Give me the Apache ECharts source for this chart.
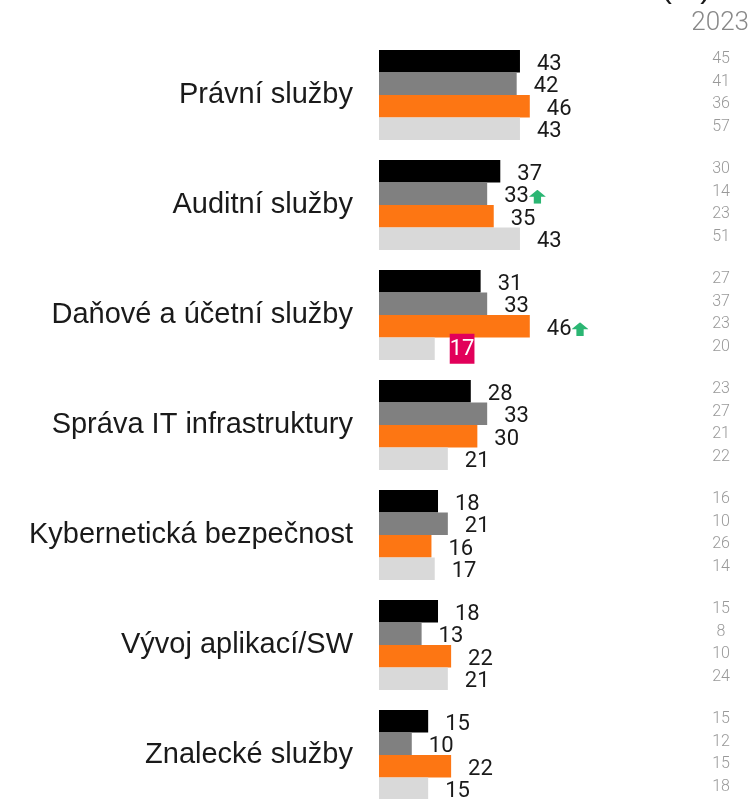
<!DOCTYPE html>
<html>
<head>
<meta charset="utf-8">
<script src="https://cdn.jsdelivr.net/npm/echarts@6/dist/echarts.min.js"></script>
<style>
  html, body { margin: 0; padding: 0; background: #fff; }
  #chart { width: 756px; height: 799px; }
</style>
</head>
<body>
<div id="chart"></div>
<script>
// categories (top to bottom)
var categories = ['Právní služby', 'Auditní služby', 'Daňové a účetní služby', 'Správa IT infrastruktury',
                  'Kybernetická bezpečnost', 'Vývoj aplikací/SW', 'Znalecké služby'];

// four bars per category
var valuesBlack  = [43, 37, 31, 28, 18, 18, 15];
var valuesGrey   = [42, 33, 33, 33, 21, 13, 10];
var valuesOrange = [46, 35, 46, 30, 16, 22, 22];
var valuesLight  = [43, 43, 17, 21, 17, 21, 15];

// 2023 column (same order of bars)
var values2023Black  = [45, 30, 27, 23, 16, 15, 15];
var values2023Grey   = [41, 14, 37, 27, 10, 8, 12];
var values2023Orange = [36, 23, 23, 21, 26, 10, 15];
var values2023Light  = [57, 51, 20, 22, 14, 24, 18];

// marks: [seriesIndex, categoryIndex]
var upArrows = [[1, 1], [2, 2]];
var alerts = [[3, 2]];

var colors = ['#000000', '#808080', '#fd7613', '#d9d9d9'];
var seriesValues = [valuesBlack, valuesGrey, valuesOrange, valuesLight];
var values2023 = [values2023Black, values2023Grey, values2023Orange, values2023Light];

var arrowSvg = '<svg xmlns="http://www.w3.org/2000/svg" width="14" height="14" viewBox="0 0 14 14">' +
    '<path d="M7 0 L14 7 L10 7 L10 14 L4 14 L4 7 L0 7 Z" fill="#2bb673"/></svg>';
var arrowImg = 'data:image/svg+xml;charset=utf-8,' + encodeURIComponent(arrowSvg);

function isIn(list, s, c) {
    for (var i = 0; i < list.length; i++) {
        if (list[i][0] === s && list[i][1] === c) return true;
    }
    return false;
}

var BAR_W = 22.5;
var numFont = 'Roboto';

var chart = echarts.init(document.getElementById('chart'));

var series = seriesValues.map(function (vals, s) {
    return {
        type: 'bar',
        barWidth: BAR_W,
        barGap: 0,
        itemStyle: { color: colors[s] },
        data: vals.map(function (v, c) {
            var item = { value: v };
            if (isIn(alerts, s, c)) {
                // highlighted value
                item.label = {
                    distance: 15,
                    offset: [0, 0],
                    color: '#fff',
                    backgroundColor: '#e2005a',
                    padding: [5, 0, 3, 0]
                };
            }
            return item;
        }),
        label: {
            show: true,
            position: 'right',
            distance: 17,
            offset: [0, 3],
            fontFamily: numFont,
            fontWeight: 400,
            fontSize: 22,
            color: '#1a1a1a',
            formatter: function (p) {
                if (isIn(upArrows, s, p.dataIndex)) return p.value + '{up|}';
                return String(p.value);
            },
            rich: {
                up: {
                    width: 14,
                    height: 14,
                    padding: [0, 0, 0, 3],
                    backgroundColor: { image: arrowImg }
                }
            }
        },
        z: 2
    };
});

// 2023 column, positioned on the same bands as the bars
var col2023 = [];
categories.forEach(function (name, c) {
    for (var s = 0; s < 4; s++) col2023.push([0, c, s, values2023[s][c]]);
});

series.push({
    type: 'custom',
    encode: { x: 0, y: 1 },
    data: col2023,
    renderItem: function (params, api) {
        var center = api.coord([0, api.value(1)]);
        var y = center[1] - 2 * BAR_W + (api.value(2) + 0.5) * BAR_W;
        var cs = params.coordSys;
        return {
            type: 'text',
            style: {
                x: cs.x + cs.width - 35,
                y: y - 2,
                text: String(api.value(3)),
                fill: '#999999',
                font: '300 16px ' + numFont,
                textAlign: 'center',
                textVerticalAlign: 'middle'
            }
        };
    },
    z: 3
});

chart.setOption({
    animation: false,
    title: [{
        text: '(%)',
        right: 40,
        top: -33,
        textStyle: { fontFamily: 'Liberation Sans', fontSize: 32, fontWeight: 'normal', color: '#1a1a1a' }
    }, {
        text: '2023',
        right: 2,
        top: 5,
        textStyle: { fontFamily: numFont, fontSize: 26, fontWeight: 300, color: '#888888' }
    }],
    grid: {
        left: 379, right: 0, top: 40, height: 770,
        containLabel: false,
        outerBoundsMode: 'none'
    },
    xAxis: {
        type: 'value',
        min: 0,
        max: 115,
        show: false
    },
    yAxis: {
        type: 'category',
        inverse: true,
        data: categories,
        axisLine: { show: false },
        axisTick: { show: false },
        axisLabel: {
            margin: 26,
            fontFamily: 'Liberation Sans',
            fontSize: 29,
            color: '#1a1a1a'
        }
    },
    series: series
});
</script>
</body>
</html>
